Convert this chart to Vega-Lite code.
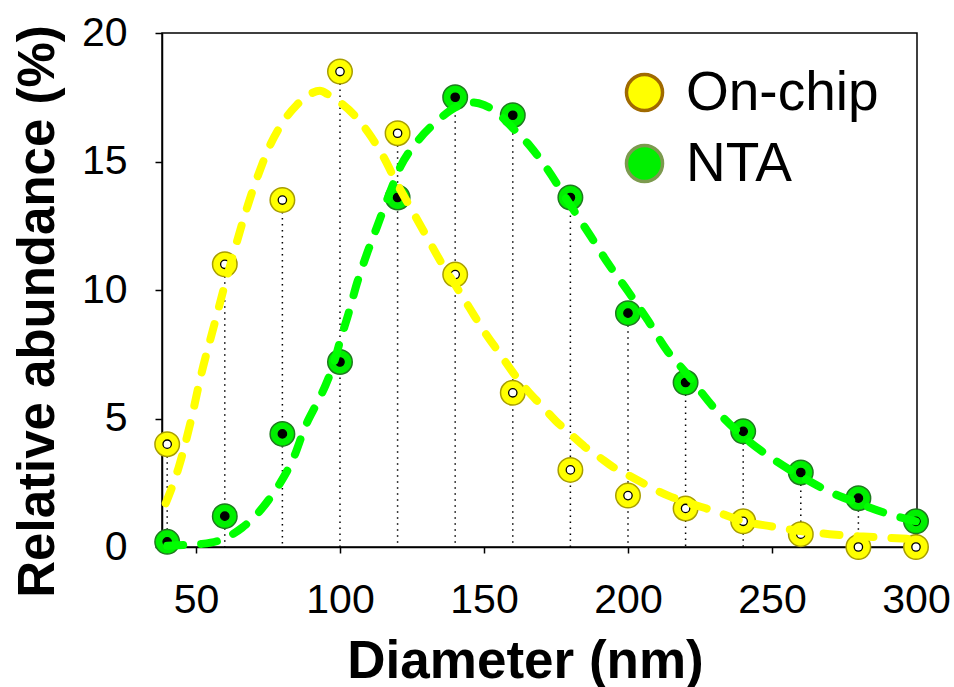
{
  "$schema": "https://vega.github.io/schema/vega-lite/v6.json",
  "width": 755,
  "height": 514,
  "autosize": "none",
  "padding": {"left": 162, "top": 33, "right": 37, "bottom": 140},
  "background": "white",
  "config": {
    "font": "Liberation Sans",
    "view": {"stroke": "black", "strokeWidth": 1.5},
    "axis": {"grid": false, "domainColor": "black", "domainWidth": 1.5, "tickColor": "black", "tickWidth": 1.5, "labelColor": "black", "titleColor": "black", "labelFont": "Liberation Sans", "titleFont": "Liberation Sans"}
  },
  "datasets": {
    "points": [
      {"d": 40, "series": "On-chip", "v": 4.0},
      {"d": 60, "series": "On-chip", "v": 11.0},
      {"d": 80, "series": "On-chip", "v": 13.5},
      {"d": 100, "series": "On-chip", "v": 18.5},
      {"d": 120, "series": "On-chip", "v": 16.1},
      {"d": 140, "series": "On-chip", "v": 10.6},
      {"d": 160, "series": "On-chip", "v": 6.0},
      {"d": 180, "series": "On-chip", "v": 3.0},
      {"d": 200, "series": "On-chip", "v": 2.0},
      {"d": 220, "series": "On-chip", "v": 1.5},
      {"d": 240, "series": "On-chip", "v": 1.0},
      {"d": 260, "series": "On-chip", "v": 0.5},
      {"d": 280, "series": "On-chip", "v": 0.0},
      {"d": 300, "series": "On-chip", "v": 0.0},
      {"d": 40, "series": "NTA", "v": 0.2},
      {"d": 60, "series": "NTA", "v": 1.2},
      {"d": 80, "series": "NTA", "v": 4.4},
      {"d": 100, "series": "NTA", "v": 7.2},
      {"d": 120, "series": "NTA", "v": 13.6},
      {"d": 140, "series": "NTA", "v": 17.5},
      {"d": 160, "series": "NTA", "v": 16.8},
      {"d": 180, "series": "NTA", "v": 13.6},
      {"d": 200, "series": "NTA", "v": 9.1},
      {"d": 220, "series": "NTA", "v": 6.4},
      {"d": 240, "series": "NTA", "v": 4.5},
      {"d": 260, "series": "NTA", "v": 2.9},
      {"d": 280, "series": "NTA", "v": 1.9},
      {"d": 300, "series": "NTA", "v": 1.0}
    ],
    "curves": [
      {"d": 39.5, "series": "On-chip", "v": 1.7},
      {"d": 44, "series": "On-chip", "v": 3.1},
      {"d": 48, "series": "On-chip", "v": 4.8},
      {"d": 52, "series": "On-chip", "v": 6.8},
      {"d": 56, "series": "On-chip", "v": 8.5},
      {"d": 60, "series": "On-chip", "v": 10.2},
      {"d": 64, "series": "On-chip", "v": 11.8},
      {"d": 68, "series": "On-chip", "v": 13.3},
      {"d": 72, "series": "On-chip", "v": 14.6},
      {"d": 76, "series": "On-chip", "v": 15.7},
      {"d": 80, "series": "On-chip", "v": 16.5},
      {"d": 85, "series": "On-chip", "v": 17.2},
      {"d": 90, "series": "On-chip", "v": 17.65},
      {"d": 93, "series": "On-chip", "v": 17.75},
      {"d": 96, "series": "On-chip", "v": 17.6},
      {"d": 100, "series": "On-chip", "v": 17.3},
      {"d": 105, "series": "On-chip", "v": 16.8},
      {"d": 110, "series": "On-chip", "v": 16.1},
      {"d": 115, "series": "On-chip", "v": 15.2},
      {"d": 120, "series": "On-chip", "v": 14.1},
      {"d": 125, "series": "On-chip", "v": 13.1},
      {"d": 130, "series": "On-chip", "v": 12.1},
      {"d": 135, "series": "On-chip", "v": 11.1},
      {"d": 140, "series": "On-chip", "v": 10.2},
      {"d": 145, "series": "On-chip", "v": 9.3},
      {"d": 150, "series": "On-chip", "v": 8.4},
      {"d": 155, "series": "On-chip", "v": 7.6},
      {"d": 160, "series": "On-chip", "v": 6.8},
      {"d": 165, "series": "On-chip", "v": 6.1},
      {"d": 170, "series": "On-chip", "v": 5.5},
      {"d": 175, "series": "On-chip", "v": 4.9},
      {"d": 180, "series": "On-chip", "v": 4.4},
      {"d": 185, "series": "On-chip", "v": 3.9},
      {"d": 190, "series": "On-chip", "v": 3.5},
      {"d": 195, "series": "On-chip", "v": 3.1},
      {"d": 200, "series": "On-chip", "v": 2.8},
      {"d": 205, "series": "On-chip", "v": 2.5},
      {"d": 210, "series": "On-chip", "v": 2.2},
      {"d": 215, "series": "On-chip", "v": 1.95},
      {"d": 220, "series": "On-chip", "v": 1.75},
      {"d": 230, "series": "On-chip", "v": 1.4},
      {"d": 240, "series": "On-chip", "v": 1.0},
      {"d": 250, "series": "On-chip", "v": 0.8},
      {"d": 260, "series": "On-chip", "v": 0.62},
      {"d": 270, "series": "On-chip", "v": 0.5},
      {"d": 280, "series": "On-chip", "v": 0.42},
      {"d": 290, "series": "On-chip", "v": 0.36},
      {"d": 300, "series": "On-chip", "v": 0.3},
      {"d": 40, "series": "NTA", "v": 0.05},
      {"d": 46, "series": "NTA", "v": 0.08},
      {"d": 52, "series": "NTA", "v": 0.12},
      {"d": 58, "series": "NTA", "v": 0.25},
      {"d": 62, "series": "NTA", "v": 0.45},
      {"d": 66, "series": "NTA", "v": 0.75},
      {"d": 71, "series": "NTA", "v": 1.25},
      {"d": 75, "series": "NTA", "v": 1.8},
      {"d": 79, "series": "NTA", "v": 2.45},
      {"d": 84, "series": "NTA", "v": 3.5},
      {"d": 88, "series": "NTA", "v": 4.7},
      {"d": 92, "series": "NTA", "v": 5.6},
      {"d": 95, "series": "NTA", "v": 6.3},
      {"d": 98, "series": "NTA", "v": 7.2},
      {"d": 100, "series": "NTA", "v": 8.0},
      {"d": 103, "series": "NTA", "v": 9.1},
      {"d": 106, "series": "NTA", "v": 10.3},
      {"d": 109, "series": "NTA", "v": 11.3},
      {"d": 113, "series": "NTA", "v": 12.5},
      {"d": 117, "series": "NTA", "v": 13.7},
      {"d": 121, "series": "NTA", "v": 14.8},
      {"d": 127, "series": "NTA", "v": 15.8},
      {"d": 134, "series": "NTA", "v": 16.6},
      {"d": 140, "series": "NTA", "v": 17.1},
      {"d": 146, "series": "NTA", "v": 17.3},
      {"d": 150, "series": "NTA", "v": 17.2},
      {"d": 155, "series": "NTA", "v": 16.85},
      {"d": 160, "series": "NTA", "v": 16.3},
      {"d": 166, "series": "NTA", "v": 15.6},
      {"d": 172, "series": "NTA", "v": 14.7},
      {"d": 180, "series": "NTA", "v": 13.3},
      {"d": 187, "series": "NTA", "v": 12.1},
      {"d": 193, "series": "NTA", "v": 11.05},
      {"d": 200, "series": "NTA", "v": 9.95},
      {"d": 207, "series": "NTA", "v": 8.8},
      {"d": 213.5, "series": "NTA", "v": 7.65},
      {"d": 220, "series": "NTA", "v": 6.8},
      {"d": 230, "series": "NTA", "v": 5.4},
      {"d": 240, "series": "NTA", "v": 4.3},
      {"d": 250, "series": "NTA", "v": 3.45},
      {"d": 260, "series": "NTA", "v": 2.75},
      {"d": 270, "series": "NTA", "v": 2.15},
      {"d": 280, "series": "NTA", "v": 1.7},
      {"d": 290, "series": "NTA", "v": 1.3},
      {"d": 300, "series": "NTA", "v": 1.0}
    ]
  },
  "encoding": {
    "x": {
      "field": "d", "type": "quantitative",
      "scale": {"domain": [38.2, 300.35], "nice": false, "zero": false},
      "axis": {
        "title": "Diameter (nm)",
        "values": [50, 100, 150, 200, 250, 300],
        "tickSize": 6,
        "labelFontSize": 41,
        "labelPadding": 27,
        "labelFlush": false,
        "labelOverlap": false,
        "titleFontSize": 53,
        "titleFontWeight": "bold",
        "titleX": 363,
        "titleY": 130,
        "titleBaseline": "alphabetic",
        "titleAlign": "center"
      }
    },
    "y": {
      "field": "v", "type": "quantitative",
      "scale": {"domain": [0, 20], "nice": false, "zero": false},
      "axis": {
        "title": "Relative abundance (%)",
        "values": [0, 5, 10, 15, 20],
        "tickSize": 7,
        "labelFontSize": 41,
        "labelPadding": 28,
        "labelFlush": false,
        "labelOverlap": false,
        "titleFontSize": 51,
        "titleFontWeight": "bold",
        "titleAngle": 270,
        "titleX": -109,
        "titleY": 278,
        "titleBaseline": "alphabetic",
        "titleAlign": "center"
      }
    }
  },
  "layer": [
    {
      "data": {"name": "points"},
      "mark": {"type": "rule", "color": "black", "strokeWidth": 1.5, "strokeDash": [1.5, 4.5], "clip": false},
      "encoding": {
        "x": {"field": "d", "type": "quantitative"},
        "y": {"aggregate": "max", "field": "v", "type": "quantitative"},
        "y2": {"datum": 0}
      }
    },
    {
      "data": {"name": "points"},
      "mark": {"type": "point", "filled": true, "opacity": 0, "size": 600, "clip": false},
      "encoding": {
        "color": {
          "field": "series", "type": "nominal",
          "scale": {"domain": ["On-chip", "NTA"], "range": ["#FFFF00", "#00F000"]},
          "legend": {
            "title": null,
            "orient": "none",
            "legendX": 455,
            "legendY": 32,
            "padding": 0,
            "symbolType": "circle",
            "symbolSize": 1300,
            "symbolStrokeWidth": 3.5,
            "symbolOpacity": 1,
            "labelFontSize": 55,
            "labelFont": "Liberation Sans",
            "labelColor": "black",
            "labelOffset": 14,
            "rowPadding": 15,
            "labelLimit": 400
          }
        },
        "stroke": {
          "field": "series", "type": "nominal",
          "scale": {"domain": ["On-chip", "NTA"], "range": ["#A06A00", "#7C9A4E"]},
          "legend": {
            "title": null,
            "orient": "none",
            "legendX": 455,
            "legendY": 32,
            "padding": 0,
            "symbolType": "circle",
            "symbolSize": 1300,
            "symbolStrokeWidth": 3.5,
            "symbolOpacity": 1,
            "labelFontSize": 55,
            "labelFont": "Liberation Sans",
            "labelColor": "black",
            "labelOffset": 14,
            "rowPadding": 15,
            "labelLimit": 400
          }
        }
      }
    },
    {
      "data": {"name": "points"},
      "mark": {"type": "point", "filled": true, "opacity": 1, "size": 600, "strokeWidth": 1.5, "clip": false},
      "encoding": {
        "fill": {"condition": {"test": "datum.series === 'NTA'", "value": "#00F000"}, "value": "#FFFF00"},
        "stroke": {"condition": {"test": "datum.series === 'NTA'", "value": "#1E7A1E"}, "value": "#A89E00"}
      }
    },
    {
      "data": {"name": "points"},
      "mark": {"type": "point", "filled": true, "opacity": 1, "size": 70, "stroke": "black", "strokeWidth": 1.3, "clip": false},
      "encoding": {
        "fill": {"condition": {"test": "datum.series === 'NTA'", "value": "black"}, "value": "white"}
      }
    },
    {
      "data": {"name": "curves"},
      "mark": {"type": "line", "strokeWidth": 8, "strokeDash": [16, 18], "strokeCap": "round", "interpolate": "monotone", "clip": false},
      "encoding": {
        "detail": {"field": "series", "type": "nominal"},
        "stroke": {"condition": {"test": "datum.series === 'NTA'", "value": "#00FF00"}, "value": "#FFFF00"}
      }
    }
  ]
}
